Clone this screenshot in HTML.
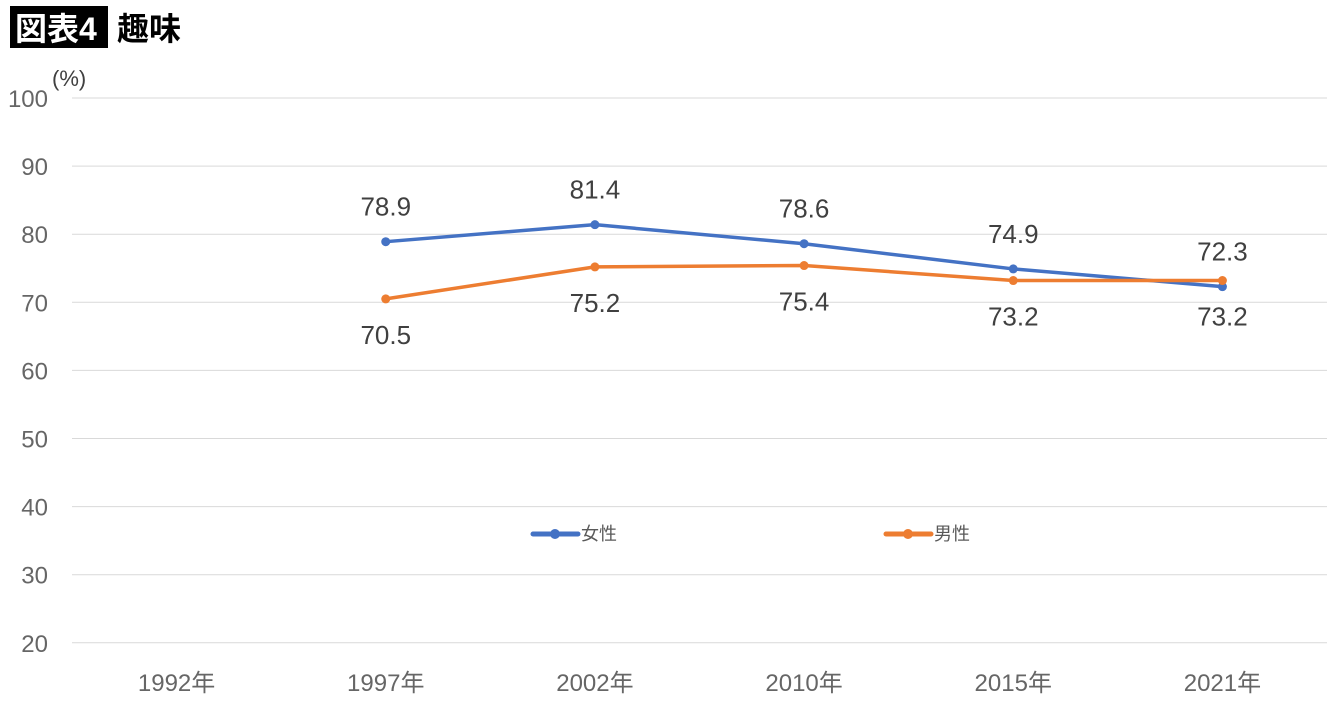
<!DOCTYPE html>
<html><head><meta charset="utf-8"><style>
body{margin:0;background:#fff;width:1340px;height:706px;overflow:hidden;font-family:"Liberation Sans","Noto Sans CJK JP",sans-serif}
</style></head><body>
<svg width="1340" height="706" xmlns="http://www.w3.org/2000/svg" font-family="Liberation Sans, Noto Sans CJK JP, sans-serif">
<rect x="10" y="6" width="98" height="42" fill="#000"/>
<text x="15" y="40" font-size="32" font-weight="bold" fill="#fff">図表4</text>
<text x="117" y="40" font-size="32" font-weight="bold" fill="#000">趣味</text>
<text x="52" y="86" font-size="22" fill="#404040">(%)</text>
<g id="grid"></g><g id="ylab"></g><g id="xlab"></g><g id="series"></g>
<g>
<line x1="533" y1="534" x2="578" y2="534" stroke="#4472C4" stroke-width="5" stroke-linecap="round"/>
<circle cx="555" cy="534" r="5" fill="#4472C4"/>
<text x="581" y="540" font-size="18" fill="#595959">女性</text>
<line x1="886" y1="534" x2="931" y2="534" stroke="#ED7D31" stroke-width="5" stroke-linecap="round"/>
<circle cx="908" cy="534" r="5" fill="#ED7D31"/>
<text x="934" y="540" font-size="18" fill="#595959">男性</text>
</g>
</svg>
<script>
const categories=["1992年","1997年","2002年","2010年","2015年","2021年"];
const female=[null,78.9,81.4,78.6,74.9,72.3];
const male=[null,70.5,75.2,75.4,73.2,73.2];
const yTicks=[20,30,40,50,60,70,80,90,100];
const NS="http://www.w3.org/2000/svg";
const x0=72,x1=1327,step=(x1-x0)/categories.length;
const xs=i=>x0+step*(i+0.5);
const ys=v=>98+(100-v)*6.81;
function mk(t,a,p){const e=document.createElementNS(NS,t);for(const k in a)e.setAttribute(k,a[k]);p.appendChild(e);return e;}
const g=document.getElementById('grid'),yl=document.getElementById('ylab'),xl=document.getElementById('xlab'),s=document.getElementById('series');
yTicks.forEach(v=>{const l=mk('line',{x1:x0,x2:x1,y1:ys(v),y2:ys(v),stroke:'#d9d9d9','stroke-width':1},g);


const t=mk('text',{x:48,y:ys(v)+9,'font-size':24,fill:'#666','text-anchor':'end'},yl);t.textContent=v;

});
categories.forEach((c,i)=>{const t=mk('text',{x:xs(i),y:691,'font-size':24,fill:'#666','text-anchor':'middle'},xl);t.textContent=c;

});
function series(d,col,off,name){let pts=[];d.forEach((v,i)=>{if(v!=null)pts.push([xs(i),ys(v),v]);});
const p=mk('polyline',{points:pts.map(q=>q[0]+','+q[1]).join(' '),fill:'none',stroke:col,'stroke-width':3.5,'stroke-linejoin':'round'},s);


pts.forEach(q=>{const c=mk('circle',{cx:q[0],cy:q[1],r:4.5,fill:col},s);


const t=mk('text',{x:q[0],y:q[1]+off,'font-size':26,fill:'#404040','text-anchor':'middle'},s);t.textContent=q[2].toFixed(1);

});}
series(female,'#4472C4',-26,'female');
series(male,'#ED7D31',45,'male');
</script>
</body></html>
